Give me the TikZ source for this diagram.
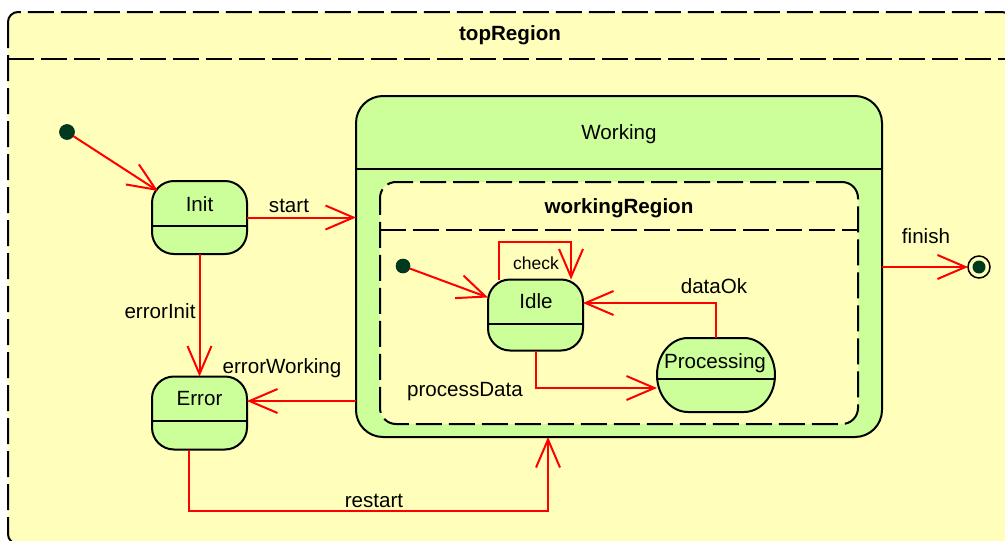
\documentclass[tikz,border=0pt]{standalone}
\usepackage{fontspec}
\setmainfont{Liberation Sans}
\usetikzlibrary{arrows.meta,calc}
\definecolor{regionfill}{HTML}{FFFFBB}
\definecolor{statefill}{HTML}{CCFF99}
\definecolor{dotfill}{HTML}{003A1E}
\definecolor{transred}{HTML}{FF0000}

% oval outline of the Processing state (elliptical corners)
\newcommand{\procoutline}{(688,338) -- (744,338)
  arc[start angle=-90, end angle=0, x radius=31, y radius=37]
  arc[start angle=0, end angle=90, x radius=31, y radius=37]
  -- (688,412)
  arc[start angle=90, end angle=180, x radius=31, y radius=37]
  arc[start angle=180, end angle=270, x radius=31, y radius=37] -- cycle}

\begin{document}
\begin{tikzpicture}[x=1pt,y=-1pt,
  every node/.style={font=\fontsize{20.6}{24}\selectfont, inner sep=0pt, outer sep=0pt},
  frame/.style={draw=black, line width=2pt},
  dashframe/.style={frame, dash pattern=on 26pt off 7pt},
  state/.style={frame, fill=statefill, rounded corners=22pt, minimum width=95pt, minimum height=73pt},
  txt/.style={text height=14.5pt, text depth=4pt},
  bold/.style={txt, font=\fontsize{20.6}{24}\selectfont\bfseries},
  small/.style={text height=12.5pt, text depth=3.5pt, font=\fontsize{17.5}{20}\selectfont},
  dot/.style={circle, fill=dotfill, draw=dotfill!70!black, line width=0.6pt, minimum size=15pt},
  tr/.style={draw=transred, line width=2pt, -{Straight Barb[length=28pt, width=24pt, line width=2pt]}},
]
\useasboundingbox (0,0) rectangle (1005,541);
\clip (0,0) rectangle (1005,541);

% top region
\path[fill=regionfill, rounded corners=10pt] (8,12) rectangle (1012,544);
\draw[dashframe, rounded corners=10pt] (8,12) rectangle (1012,544);
\draw[dashframe] (8,59) -- (1012,59);
\node[bold] (topname) at (510,35) {topRegion};

% composite state Working
\node[state, rounded corners=27pt, minimum width=526pt, minimum height=341pt] (working) at (619,266.5) {};
\draw[frame] (working.west |- 0,169) -- (working.east |- 0,169);
\node[txt] (workingname) at (619,134) {Working};

% its region
\node[dashframe, fill=regionfill, rounded corners=16pt, minimum width=478pt, minimum height=242pt] (region) at (619,303) {};
\draw[dashframe] (region.west |- 0,230) -- (region.east |- 0,230);
\node[bold] (regionname) at (619,208) {workingRegion};

% simple states
\node[state] (init) at (199.5,217.5) {};
\draw[frame] (init.west |- 0,226) -- (init.east |- 0,226);
\node[txt] (initname) at (199.5,206) {Init};

\node[state] (error) at (199.5,413) {};
\draw[frame] (error.west |- 0,421) -- (error.east |- 0,421);
\node[txt] (errorname) at (199.5,400) {Error};

\node[state, minimum height=71pt] (idle) at (535.5,315) {};
\draw[frame] (idle.west |- 0,324) -- (idle.east |- 0,324);
\node[txt] (idlename) at (536,303) {Idle};

\node[minimum width=118pt, minimum height=74pt] (proc) at (716,375) {};
\fill[statefill] \procoutline;
\begin{scope}
  \clip \procoutline;
  \draw[frame] (proc.west |- 0,379) -- (proc.east |- 0,379);
\end{scope}
\draw[frame] \procoutline;
\node[txt] (procname) at (715,363) {Processing};

% pseudo states
\node[dot] (d0) at (67,132) {};
\node[dot, minimum size=14pt] (d1) at (403,266) {};
\node[circle, draw=black, line width=1.5pt, fill=regionfill, minimum size=22pt] (fin) at (979,267) {};
\fill[dotfill] (fin.center) circle (6.5);

% transitions
\draw[tr] (d0) -- ($(init.north west)+(6,10)$);
\draw[tr] (init.east) -- (working.west |- init.east);
\node[txt] (startlbl) at (289,207) {start};

\draw[tr] (init.south) -- (error.north);
\node[txt] (errinitlbl) at (160,313) {errorInit};

\coordinate (ew) at ($(error.east)+(0,-12)$);
\draw[tr] (working.west |- ew) -- (ew);
\node[txt] (errworklbl) at (282,368) {errorWorking};

\coordinate (rs) at ($(error.south)+(-11,0)$);
\coordinate (rsturn) at (548,511);
\draw[tr] (rs) |- (rsturn) -- (working.south -| rsturn);
\node[txt] (restartlbl) at (374,502) {restart};

\draw[tr] (working.east |- fin) -- (fin.west);
\node[txt] (finishlbl) at (926,238) {finish};

\draw[tr] (d1) -- (idle);
\coordinate (ckl) at (499,242);
\coordinate (ckr) at (571,242);
\draw[tr] (idle.north -| ckl) -- (ckl) -- (ckr) -- (idle.north -| ckr);
\node[small] (checklbl) at (536,265) {check};

\draw[tr] (idle.south) |- ($(proc.west)+(0,13)$);
\node[txt] (pdlbl) at (465,391) {processData};

\draw[tr] (proc.north) |- ($(idle.east)+(0,-12)$);
\node[txt] (oklbl) at (714,288) {dataOk};
\end{tikzpicture}
\end{document}
